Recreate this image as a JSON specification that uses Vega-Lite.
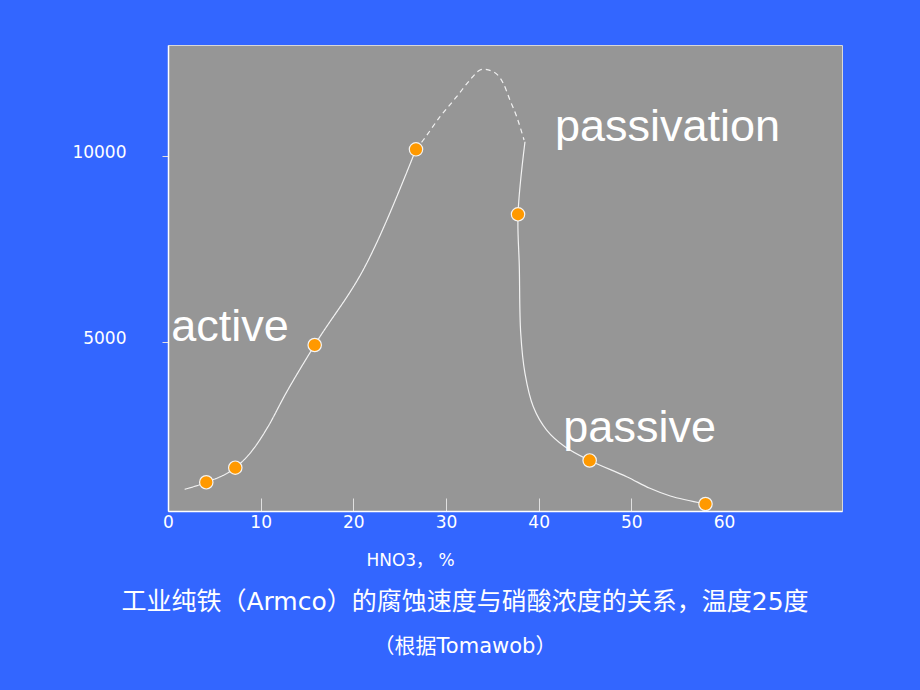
{
  "$schema": "https://vega.github.io/schema/vega-lite/v6.json",
  "autosize": "none",
  "width": 674,
  "height": 466,
  "padding": {"left": 168, "top": 45, "right": 78, "bottom": 179},
  "background": "#3366ff",
  "title": {
    "text": "工业纯铁（Armco）的腐蚀速度与硝酸浓度的关系，温度25度",
    "subtitle": "（根据Tomawob）",
    "orient": "bottom",
    "anchor": "middle",
    "frame": "group",
    "dx": -40,
    "offset": 22,
    "font": "DejaVu Sans, Noto Sans CJK SC",
    "fontSize": 25,
    "fontWeight": "normal",
    "color": "white",
    "subtitleFont": "DejaVu Sans, Noto Sans CJK SC",
    "subtitleFontSize": 21,
    "subtitleColor": "white",
    "subtitlePadding": 21
  },
  "datasets": {
    "curve": [
      {"seg": "rise", "style": "solid", "ord": 1, "hno3": 1.8, "rate": 1040},
      {"seg": "rise", "style": "solid", "ord": 2, "hno3": 4.13, "rate": 1229},
      {"seg": "rise", "style": "solid", "ord": 3, "hno3": 7.26, "rate": 1621},
      {"seg": "rise", "style": "solid", "ord": 4, "hno3": 8.99, "rate": 2051},
      {"seg": "rise", "style": "solid", "ord": 5, "hno3": 10.79, "rate": 2723},
      {"seg": "rise", "style": "solid", "ord": 6, "hno3": 12.59, "rate": 3560},
      {"seg": "rise", "style": "solid", "ord": 7, "hno3": 15.83, "rate": 4919},
      {"seg": "rise", "style": "solid", "ord": 8, "hno3": 21.44, "rate": 7116},
      {"seg": "rise", "style": "solid", "ord": 9, "hno3": 26.76, "rate": 10180},
      {"seg": "peak", "style": "dashed", "ord": 10, "hno3": 26.76, "rate": 10180},
      {"seg": "peak", "style": "dashed", "ord": 11, "hno3": 27.55, "rate": 10430},
      {"seg": "peak", "style": "dashed", "ord": 12, "hno3": 29.35, "rate": 11056},
      {"seg": "peak", "style": "dashed", "ord": 13, "hno3": 31.15, "rate": 11594},
      {"seg": "peak", "style": "dashed", "ord": 14, "hno3": 32.59, "rate": 12043},
      {"seg": "peak", "style": "dashed", "ord": 15, "hno3": 33.67, "rate": 12312},
      {"seg": "peak", "style": "dashed", "ord": 16, "hno3": 34.02, "rate": 12331},
      {"seg": "peak", "style": "dashed", "ord": 17, "hno3": 35.1, "rate": 12266},
      {"seg": "peak", "style": "dashed", "ord": 18, "hno3": 36.18, "rate": 11954},
      {"seg": "peak", "style": "dashed", "ord": 19, "hno3": 36.9, "rate": 11505},
      {"seg": "peak", "style": "dashed", "ord": 20, "hno3": 37.63, "rate": 11056},
      {"seg": "peak", "style": "dashed", "ord": 21, "hno3": 38.42, "rate": 10430},
      {"seg": "fall", "style": "solid", "ord": 22, "hno3": 38.52, "rate": 10384},
      {"seg": "fall", "style": "solid", "ord": 23, "hno3": 37.77, "rate": 8433},
      {"seg": "fall", "style": "solid", "ord": 24, "hno3": 37.91, "rate": 7024},
      {"seg": "fall", "style": "solid", "ord": 25, "hno3": 38.06, "rate": 5242},
      {"seg": "fall", "style": "solid", "ord": 26, "hno3": 38.52, "rate": 4159},
      {"seg": "fall", "style": "solid", "ord": 27, "hno3": 39.42, "rate": 3261},
      {"seg": "fall", "style": "solid", "ord": 28, "hno3": 40.86, "rate": 2634},
      {"seg": "fall", "style": "solid", "ord": 29, "hno3": 42.84, "rate": 2185},
      {"seg": "fall", "style": "solid", "ord": 30, "hno3": 45.5, "rate": 1815},
      {"seg": "fall", "style": "solid", "ord": 31, "hno3": 49.5, "rate": 1379},
      {"seg": "fall", "style": "solid", "ord": 32, "hno3": 52.0, "rate": 1067},
      {"seg": "fall", "style": "solid", "ord": 33, "hno3": 54.2, "rate": 860},
      {"seg": "fall", "style": "solid", "ord": 34, "hno3": 58.0, "rate": 645}
    ],
    "measured": [
      {"hno3": 4.13, "rate": 1229},
      {"hno3": 7.26, "rate": 1621},
      {"hno3": 15.83, "rate": 4919},
      {"hno3": 26.76, "rate": 10180},
      {"hno3": 37.77, "rate": 8433},
      {"hno3": 45.5, "rate": 1815},
      {"hno3": 58.0, "rate": 645}
    ],
    "notes": [
      {"label": "passivation", "hno3": 41.76, "rate": 10403},
      {"label": "active", "hno3": 0.36, "rate": 5020},
      {"label": "passive", "hno3": 42.66, "rate": 2310}
    ]
  },
  "encoding": {
    "x": {
      "field": "hno3",
      "type": "quantitative",
      "scale": {"domain": [0, 72.73], "nice": false, "zero": false},
      "axis": {
        "title": "HNO3， %",
        "titleX": 242,
        "titleY": 49,
        "titleAlign": "center",
        "titleBaseline": "middle",
        "titleFont": "DejaVu Sans, Noto Sans CJK SC",
        "titleFontSize": 17,
        "titleFontWeight": "normal",
        "titleColor": "white",
        "values": [0, 10, 20, 30, 40, 50, 60],
        "grid": false,
        "tickSize": -13,
        "tickColor": "#e0e0e0",
        "tickOpacity": {"condition": {"test": "datum.value >= 60", "value": 0}, "value": 1},
        "labelPadding": 16,
        "labelFlush": false
      }
    },
    "y": {
      "field": "rate",
      "type": "quantitative",
      "scale": {"domain": [457, 12984], "nice": false, "zero": false},
      "axis": {
        "title": null,
        "values": [5000, 10000],
        "format": "d",
        "grid": false,
        "tickSize": 6,
        "tickColor": "#e0e0e0",
        "labelPadding": 36,
        "labelOffset": -4
      }
    }
  },
  "layer": [
    {
      "data": {"name": "curve"},
      "transform": [{"filter": "datum.seg != 'fall'"}],
      "mark": {"type": "line", "interpolate": "monotone", "color": "#f2f2f2", "strokeWidth": 1.2},
      "encoding": {
        "order": {"field": "ord", "type": "quantitative"},
        "detail": {"field": "seg", "type": "nominal"},
        "strokeDash": {
          "field": "style",
          "type": "nominal",
          "scale": {"domain": ["solid", "dashed"], "range": [[1, 0], [5, 4]]},
          "legend": null
        }
      }
    },
    {
      "data": {"name": "curve"},
      "transform": [{"filter": "datum.seg == 'fall'"}],
      "mark": {"type": "line", "interpolate": "catmull-rom", "color": "#f2f2f2", "strokeWidth": 1.2},
      "encoding": {
        "order": {"field": "ord", "type": "quantitative"}
      }
    },
    {
      "data": {"name": "measured"},
      "mark": {"type": "circle", "size": 180, "color": "#ff9900", "opacity": 1, "stroke": "#f4f4f4", "strokeWidth": 1.2}
    },
    {
      "data": {"name": "notes"},
      "mark": {"type": "text", "align": "left", "baseline": "alphabetic", "font": "Liberation Sans", "fontSize": 45, "color": "white"},
      "encoding": {"text": {"field": "label"}}
    }
  ],
  "config": {
    "view": {"fill": "#969696", "stroke": "#d8d8d8", "strokeWidth": 1},
    "axis": {
      "domainColor": "white",
      "domainWidth": 1.5,
      "labelColor": "white",
      "labelFont": "DejaVu Sans",
      "labelFontSize": 17
    }
  }
}
